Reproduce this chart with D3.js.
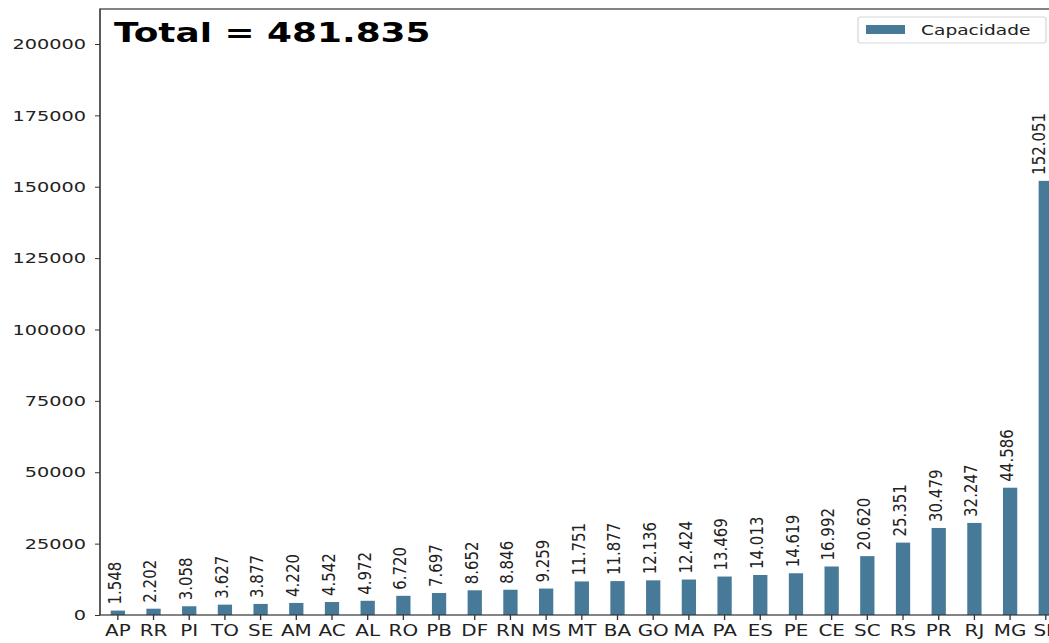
<!DOCTYPE html>
<html>
<head>
<meta charset="utf-8">
<script src="https://cdn.jsdelivr.net/npm/d3@7"></script>
<style>
  html, body { margin: 0; padding: 0; background: #fff; }
  svg { display: block; }
</style>
</head>
<body>
<div id="chart"></div>
<script>
// capacidade por UF, ordered ascending (as in the source figure)
const estados = ['AP', 'RR', 'PI', 'TO', 'SE', 'AM', 'AC', 'AL', 'RO', 'PB', 'DF', 'RN', 'MS', 'MT',
  'BA', 'GO', 'MA', 'PA', 'ES', 'PE', 'CE', 'SC', 'RS', 'PR', 'RJ', 'MG', 'SP'];
const capacidade = [1548, 2202, 3058, 3627, 3877, 4220, 4542, 4972, 6720, 7697, 8652, 8846, 9259, 11751,
  11877, 12136, 12424, 13469, 14013, 14619, 16992, 20620, 25351, 30479, 32247, 44586, 152051];
const yTicks = [0, 25000, 50000, 75000, 100000, 125000, 150000, 175000, 200000];
const serieNome = 'Capacidade';

// the original picture is stretched horizontally, so draw in a narrower
// coordinate space and let the viewBox stretch it back out
const K = 1.33;
const W = 1049, H = 643;
const iw = W / K;
const sx = (px) => px / K; // screen px -> internal x

const fmt = (v) => d3.format(',')(v).replace(/,/g, '.');

const svg = d3.select('#chart').append('svg')
  .attr('width', W)
  .attr('height', H)
  .attr('viewBox', `0 0 ${iw} ${H}`)
  .attr('preserveAspectRatio', 'none');

const axLeft = sx(100), axTop = 9, axBottom = 615;

const x = d3.scaleBand()
  .domain(estados)
  .range([axLeft, sx(100 + 27 * 35.69)])
  .paddingInner(0.6)
  .paddingOuter(0.3);

const y = d3.scaleLinear()
  .domain([0, 212250])
  .range([axBottom, axTop]);

const cor = '#467a98';

svg.append('g')
  .selectAll('rect')
  .data(capacidade)
  .join('rect')
  .attr('x', (d, i) => x(estados[i]))
  .attr('y', (d) => y(d))
  .attr('width', x.bandwidth())
  .attr('height', (d) => y(0) - y(d))
  .attr('fill', cor);

// value labels, rotated (a bit thinner than the stretched axis text);
// kept inside the picture for the last bar, which the frame cuts
const labelX = (i) => Math.min(x(estados[i]) + x.bandwidth() / 2 - sx(3), sx(1039));
svg.append('g')
  .selectAll('text')
  .data(capacidade)
  .join('text')
  .attr('transform', (d, i) => `translate(${labelX(i)},${y(d) - 6}) rotate(-90) scale(1,0.85)`)
  .attr('dominant-baseline', 'central')
  .attr('font-family', 'DejaVu Sans')
  .attr('font-size', 15)
  .attr('fill', '#222')
  .text(fmt);

// axes
const yAxis = svg.append('g')
  .attr('transform', `translate(${axLeft},0)`)
  .call(d3.axisLeft(y).tickValues(yTicks).tickSize(5 / K).tickPadding(9 / K).tickFormat(d3.format('d')));
yAxis.selectAll('text')
  .attr('font-family', 'DejaVu Sans').attr('font-size', 14.5).attr('fill', '#222');

const xAxis = svg.append('g')
  .attr('transform', `translate(0,${axBottom})`)
  .call(d3.axisBottom(x).tickSize(5).tickPadding(5));
xAxis.selectAll('text')
  .attr('font-family', 'DejaVu Sans').attr('font-size', 15).attr('fill', '#222');

svg.selectAll('.domain').remove();
svg.selectAll('.tick line').attr('stroke', '#333');

// spines
const axRight = x.range()[1];
svg.append('rect')
  .attr('x', axLeft).attr('y', axTop)
  .attr('width', axRight - axLeft).attr('height', axBottom - axTop)
  .attr('fill', 'none').attr('stroke', '#333').attr('stroke-width', 1.2);

// title inside axes
svg.append('text')
  .attr('x', sx(114)).attr('y', 42)
  .attr('font-family', 'DejaVu Sans').attr('font-weight', 'bold')
  .attr('font-size', 27).attr('fill', '#000')
  .text(`Total = ${fmt(d3.sum(capacidade))}`);

// legend
const lg = svg.append('g');
lg.append('rect')
  .attr('x', sx(858)).attr('y', 17).attr('width', sx(1046) - sx(858)).attr('height', 26)
  .attr('rx', 2).attr('fill', '#fff').attr('stroke', '#d8d8d8');
lg.append('rect')
  .attr('x', sx(866)).attr('y', 25).attr('width', sx(905) - sx(866)).attr('height', 9)
  .attr('fill', cor);
lg.append('text')
  .attr('x', sx(921)).attr('y', 35)
  .attr('font-family', 'DejaVu Sans').attr('font-size', 14).attr('fill', '#222')
  .text(serieNome);
</script>
</body>
</html>
